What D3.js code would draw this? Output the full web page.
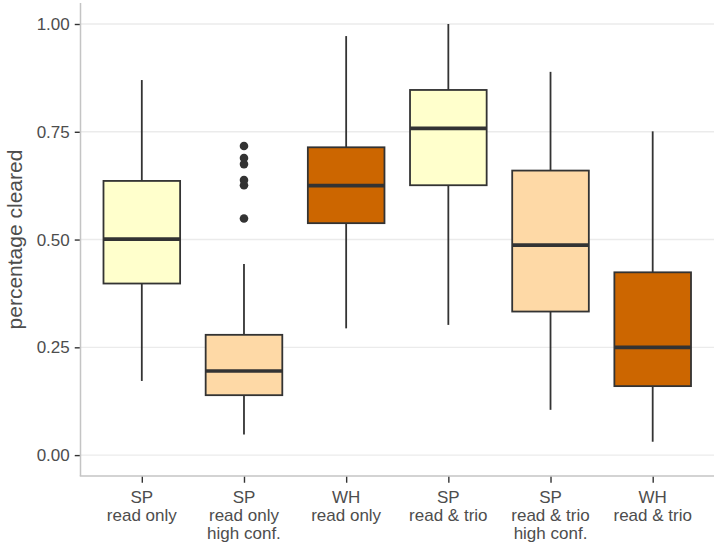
<!DOCTYPE html>
<html>
<head>
<meta charset="utf-8">
<script src="https://cdn.jsdelivr.net/npm/d3@7"></script>
<style>
  html, body { margin: 0; padding: 0; background: #fff; }
  svg { display: block; font-family: "Liberation Sans", Arial, Helvetica, sans-serif; }
</style>
</head>
<body>
<svg id="chart" width="714" height="545"></svg>
<script>
// ---- data ----
const categories = [
  ["SP", "read only"],
  ["SP", "read only", "high conf."],
  ["WH", "read only"],
  ["SP", "read & trio"],
  ["SP", "read & trio", "high conf."],
  ["WH", "read & trio"]
];
const whiskerLow  = [0.172, 0.048, 0.294, 0.302, 0.105, 0.031];
const q1          = [0.398, 0.139, 0.538, 0.626, 0.333, 0.160];
const medians     = [0.501, 0.195, 0.625, 0.758, 0.487, 0.250];
const q3          = [0.636, 0.279, 0.714, 0.847, 0.660, 0.424];
const whiskerHigh = [0.870, 0.443, 0.972, 1.000, 0.889, 0.751];
const outliers    = [[], [0.549, 0.626, 0.638, 0.675, 0.689, 0.717], [], [], [], []];
const fills       = ["#FFFFCC", "#FED9A6", "#CC6600", "#FFFFCC", "#FED9A6", "#CC6600"];
const yTicks      = [0, 0.25, 0.5, 0.75, 1.0];
const yTitle      = "percentage cleared";

// ---- layout ----
const panel = { left: 80.5, right: 714, top: 3, bottom: 476 };
const svg = d3.select("#chart");
const idx = d3.range(categories.length);

// ggplot discrete expansion of 0.6 units on each side
const unit = (panel.right - panel.left) / (categories.length - 1 + 1.2);
const xs = d3.scalePoint().domain(idx)
  .range([panel.left + 0.6 * unit, panel.right - 0.6 * unit]);
const boxW = 0.75 * unit;

const y = d3.scaleLinear().domain([0, 1]).range([455.1, 24]);

// gridlines
svg.append("g").selectAll("line").data(yTicks).join("line")
  .attr("x1", panel.left).attr("x2", panel.right)
  .attr("y1", d => y(d)).attr("y2", d => y(d))
  .attr("stroke", "#EBEBEB").attr("stroke-width", 1.4);

// axis lines
svg.append("line")
  .attr("x1", panel.left).attr("x2", panel.left)
  .attr("y1", panel.top).attr("y2", panel.bottom)
  .attr("stroke", "#C4C4C4").attr("stroke-width", 1.5);
svg.append("line")
  .attr("x1", panel.left - 0.75).attr("x2", panel.right)
  .attr("y1", panel.bottom).attr("y2", panel.bottom)
  .attr("stroke", "#C4C4C4").attr("stroke-width", 1.5);

// y axis ticks and labels
const yAxis = d3.axisLeft(y).tickValues(yTicks).tickFormat(d3.format(".2f")).tickSize(5).tickPadding(5);
const gy = svg.append("g").attr("transform", `translate(${panel.left - 0.75},0)`).call(yAxis);
gy.select(".domain").remove();
gy.selectAll(".tick line").attr("stroke", "#333333").attr("stroke-width", 1.4);
gy.selectAll(".tick text").attr("fill", "#4D4D4D").style("font-size", "17px")
  .style("font-family", "'Liberation Sans', Arial, sans-serif");

// x ticks
const xAxis = d3.axisBottom(xs).tickSize(6).tickFormat("");
const gx = svg.append("g").attr("transform", `translate(0,${panel.bottom + 0.75})`).call(xAxis);
gx.select(".domain").remove();
gx.selectAll(".tick line").attr("stroke", "#333333").attr("stroke-width", 1.4);

// x labels (multi-line)
const xl = svg.append("g").selectAll("text").data(idx).join("text")
  .attr("x", d => xs(d)).attr("y", 503)
  .attr("text-anchor", "middle")
  .attr("fill", "#4D4D4D").style("font-size", "17px");
xl.each(function(d) {
  const t = d3.select(this);
  categories[d].forEach((line, k) => {
    t.append("tspan").attr("x", xs(d)).attr("dy", k === 0 ? 0 : 18).text(line);
  });
});

// y title
svg.append("text")
  .attr("transform", `translate(22,${(y(0) + y(1)) / 2}) rotate(-90)`)
  .attr("text-anchor", "middle")
  .attr("fill", "#4D4D4D").style("font-size", "21px")
  .text(yTitle);

// boxplots
const g = svg.append("g");
idx.forEach(i => {
  const c = xs(i);
  g.append("line").attr("x1", c).attr("x2", c)
    .attr("y1", y(q3[i])).attr("y2", y(whiskerHigh[i]))
    .attr("stroke", "#333333").attr("stroke-width", 1.8);
  g.append("line").attr("x1", c).attr("x2", c)
    .attr("y1", y(q1[i])).attr("y2", y(whiskerLow[i]))
    .attr("stroke", "#333333").attr("stroke-width", 1.8);
  g.append("rect")
    .attr("x", c - boxW / 2).attr("width", boxW)
    .attr("y", y(q3[i])).attr("height", y(q1[i]) - y(q3[i]))
    .attr("fill", fills[i]).attr("stroke", "#333333").attr("stroke-width", 1.8);
  g.append("line").attr("x1", c - boxW / 2).attr("x2", c + boxW / 2)
    .attr("y1", y(medians[i])).attr("y2", y(medians[i]))
    .attr("stroke", "#333333").attr("stroke-width", 3.6);
  g.selectAll(null).data(outliers[i]).join("circle")
    .attr("cx", c).attr("cy", d => y(d)).attr("r", 4.3)
    .attr("fill", "#333333");
});
</script>
</body>
</html>
